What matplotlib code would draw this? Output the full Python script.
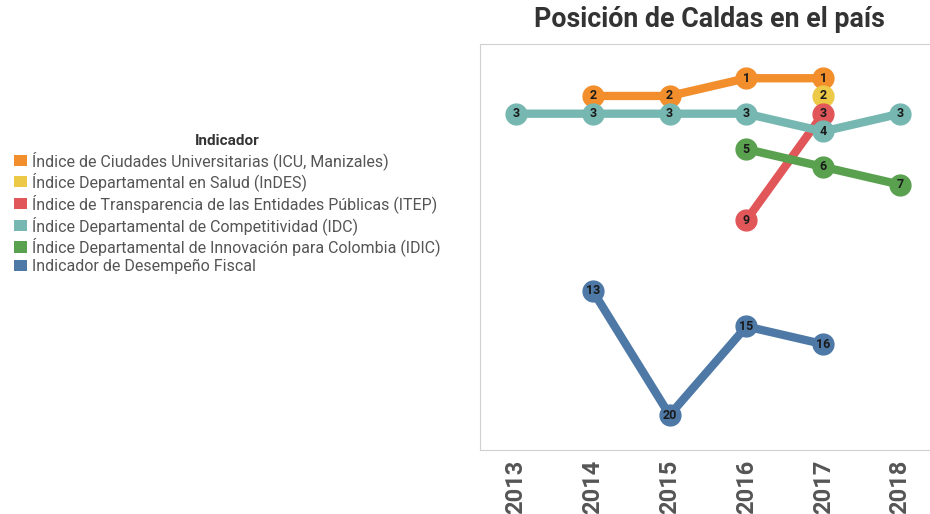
import matplotlib.pyplot as plt
from matplotlib.patches import Patch

years = [2013, 2014, 2015, 2016, 2017, 2018]

icu_years = [2014, 2015, 2016, 2017]
icu_rank = [2, 2, 1, 1]
indes_years = [2017]
indes_rank = [2]
itep_years = [2016, 2017]
itep_rank = [9, 3]
idc_years = [2013, 2014, 2015, 2016, 2017, 2018]
idc_rank = [3, 3, 3, 3, 4, 3]
idic_years = [2016, 2017, 2018]
idic_rank = [5, 6, 7]
fiscal_years = [2014, 2015, 2016, 2017]
fiscal_rank = [13, 20, 15, 16]

names = ["Índice de Ciudades Universitarias (ICU, Manizales)",
         "Índice Departamental en Salud (InDES)",
         "Índice de Transparencia de las Entidades Públicas (ITEP)",
         "Índice Departamental de Competitividad (IDC)",
         "Índice Departamental de Innovación para Colombia (IDIC)",
         "Indicador de Desempeño Fiscal"]
colores = ["#F28E2B", "#EDC948", "#E15759", "#76B7B2", "#59A14F", "#4E79A7"]

plt.rcParams['font.family'] = ['Roboto', 'DejaVu Sans']

fig = plt.figure(figsize=(9.3, 5.14), dpi=100)
ax = fig.add_axes([0.516, 0.1245, 0.484, 0.7895])

# orden de dibujo: los de atras primero
series = [(3, idc_years, idc_rank), (4, idic_years, idic_rank),
          (5, fiscal_years, fiscal_rank), (2, itep_years, itep_rank),
          (0, icu_years, icu_rank), (1, indes_years, indes_rank)]
for k, xs, ys in series:
    ax.plot(xs, ys, color=colores[k], lw=6, marker='o', ms=15,
            solid_capstyle='round', zorder=2 + k * 0.1)
    for x, y in zip(xs, ys):
        ax.text(x, y, str(y), ha='center', va='center', fontsize=9,
                fontweight='bold', color='#1a1a1a', zorder=5)

ax.set_xlim(2012.53, 2018.39)
ax.set_ylim(21.97, -0.92)
ax.set_xticks(years)
ax.set_xticklabels([str(y) for y in years], rotation=90,
                   fontsize=17, fontweight='bold', color='#555555')
ax.set_yticks([])
ax.tick_params(axis='x', length=0, pad=7)
for s in ['top', 'left', 'bottom']:
    ax.spines[s].set_color('#d0d0d0')
ax.spines['right'].set_visible(False)

fig.text(0.763, 0.962, "Posición de Caldas en el país", ha='center', va='center',
         fontsize=19.3, fontweight='bold', color='#333333')

handles = [Patch(facecolor=c, edgecolor='none') for c in colores]
leg = fig.legend(handles, names, loc='upper left', bbox_to_anchor=(0.008, 0.752),
                 frameon=False, handlelength=0.8, handleheight=0.7,
                 handletextpad=0.35, labelspacing=0.18, fontsize=11.5,
                 title="Indicador", borderaxespad=0)
leg.get_title().set_fontweight('bold')
leg.get_title().set_color('#333333')
leg.get_title().set_fontsize(11)
for t in leg.get_texts():
    t.set_color('#555555')

fig.savefig('out.png', dpi=100)
